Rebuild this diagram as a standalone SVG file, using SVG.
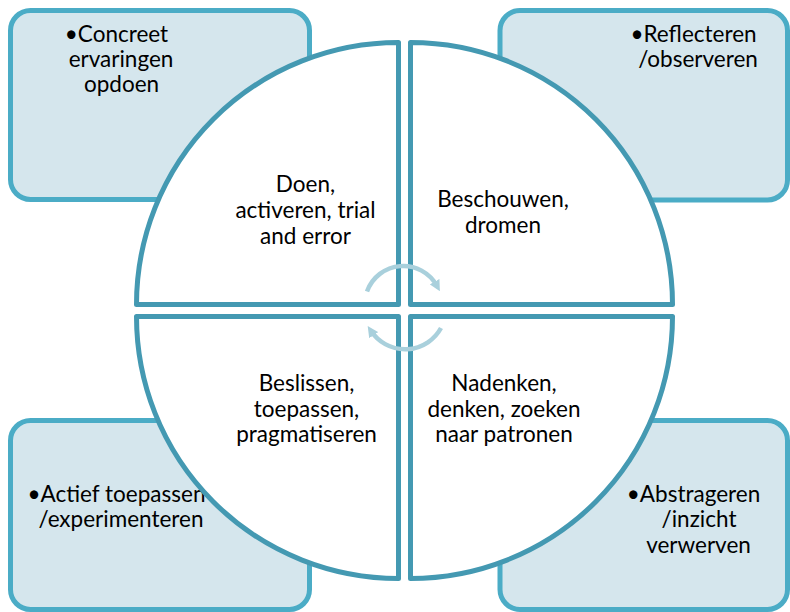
<svg xmlns="http://www.w3.org/2000/svg" width="790" height="612" viewBox="0 0 790 612">
<style>
.box{fill:#d5e6ed;stroke:#4bacc6;stroke-width:5}
.quad{fill:#ffffff;stroke:#4499b2;stroke-width:5;stroke-linejoin:round}
.arr{fill:none;stroke:#a9d0dc;stroke-width:4.5}
text{font-family:Lato,"Liberation Sans",sans-serif;font-size:22.5px;fill:#000;text-anchor:middle}
</style>
<defs>
<marker id="ah" markerUnits="userSpaceOnUse" markerWidth="11" markerHeight="11" refX="5" refY="5.5" orient="auto">
<path d="M0,0 L11,5.5 L0,11 z" fill="#a9d0dc"/>
</marker>
</defs>
<rect width="790" height="612" fill="#ffffff"/>
<g id="box-tl"><rect class="box" x="10.5" y="10.5" width="299" height="189" rx="20"/>
<text x="116.5" y="42">•Concreet</text><text x="121" y="67">ervaringen</text><text x="121.5" y="92">opdoen</text></g>
<g id="box-tr"><rect class="box" x="500" y="10.5" width="287.5" height="189.5" rx="20"/>
<text x="693.5" y="42">•Reflecteren</text><text x="698" y="67">/observeren</text></g>
<g id="box-bl"><rect class="box" x="10.5" y="420.5" width="299" height="189" rx="20"/>
<text x="116.5" y="502">•Actief toepassen</text><text x="121" y="527">/experimenteren</text></g>
<g id="box-br"><rect class="box" x="500" y="420.5" width="287.5" height="189" rx="20"/>
<text x="693.5" y="502">•Abstrageren</text><text x="699" y="527">/inzicht</text><text x="698.5" y="553">verwerven</text></g>
<g id="quad-tl"><path class="quad" d="M398.5,304.5 L398.5,42.5 A262,262 0 0 0 136.5,304.5 Z"/>
<text x="305.5" y="192">Doen,</text><text x="305.5" y="218">activeren, trial</text><text x="305.5" y="244">and error</text></g>
<g id="quad-tr"><path class="quad" d="M410.5,304.5 L672.5,304.5 A262,262 0 0 0 410.5,42.5 Z"/>
<text x="503" y="207">Beschouwen,</text><text x="503" y="233">dromen</text></g>
<g id="quad-bl"><path class="quad" d="M398.5,316.5 L136.5,316.5 A262,262 0 0 0 398.5,578.5 Z"/>
<text x="306.5" y="391">Beslissen,</text><text x="306.5" y="417">toepassen,</text><text x="306.5" y="442">pragmatiseren</text></g>
<g id="quad-br"><path class="quad" d="M410.5,316.5 L410.5,578.5 A262,262 0 0 0 672.5,316.5 Z"/>
<text x="504" y="391">Nadenken,</text><text x="504" y="417">denken, zoeken</text><text x="504" y="442">naar patronen</text></g>
<g id="connectors">
<path class="arr" d="M367,291.5 A38.5,38.5 0 0 1 437,286" marker-end="url(#ah)"/>
<path class="arr" d="M441,328 A41,41 0 0 1 371,331" marker-end="url(#ah)"/>
</g>
</svg>
